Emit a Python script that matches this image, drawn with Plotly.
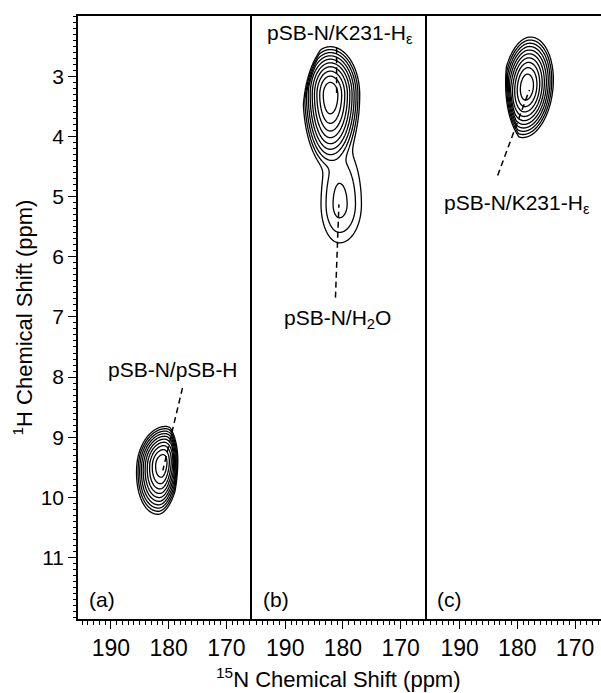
import numpy as np
import plotly.graph_objects as go

# ---------------- data ----------------
panel_labels = ["(a)", "(b)", "(c)"]
x_tick_vals = [190, 180, 170]
y_tick_vals = [3, 4, 5, 6, 7, 8, 9, 10, 11]

# cross peaks (15N ppm, 1H ppm) and their outer-contour extents
peak_panel = [0, 1, 1, 2]
peak_n = [181.1, 182.2, 180.6, 178.4]
peak_h = [9.45, 3.31, 5.13, 3.18]
peak_log_amp = [0.0, 0.0, -7.6, 0.0]
peak_ext_left = [4.4, 4.7, 3.2, 4.1]
peak_ext_right = [3.1, 5.1, 3.8, 4.6]
peak_ext_up = [0.63, 0.80, 1.0, 0.83]
peak_ext_down = [0.83, 1.22, 0.64, 0.84]
peak_shear = [0.9, 0.0, 0.0, 0.8]

# steeper edges of the peaks (line through two points in ppm)
edge_panel = [0, 1, 2]
edge_n1 = [179.6, 184.0, 181.6]
edge_h1 = [9.0, 2.6, 3.0]
edge_n2 = [178.9, 186.3, 179.9]
edge_h2 = [9.9, 3.3, 3.9]
edge_side = [1, -1, -1]
edge_rate = [0.45, 0.45, 0.45]

# assignment labels
label_panel = [0, 1, 1, 2]
label_text = ["pSB-N/pSB-H", "pSB-N/K231-H<sub>ε</sub>", "pSB-N/H<sub>2</sub>O", "pSB-N/K231-H<sub>ε</sub>"]
label_n = [179.3, 180.6, 181.0, 180.0]
label_h = [7.87, 2.30, 7.03, 5.12]
leader_n0 = [177.6, 181.1, 181.3, 183.4]
leader_h0 = [8.18, 2.52, 6.68, 4.65]
leader_n1 = [181.0, 181.1, 180.7, 177.9]
leader_h1 = [9.55, 3.28, 5.13, 3.23]

grid_n_lo = [172.0, 172.0, 169.0]
grid_n_hi = [190.0, 191.0, 187.0]
grid_h_lo = [8.2, 2.0, 2.0]
grid_h_hi = [10.9, 6.3, 4.7]

N_RANGE = [195.7, 165.5]
H_RANGE = [12.02, 2.0]
N_LEVELS = 10
P_EXP = 1.7
PX_N = 5.77
PX_H = 60.3


def panel_surface(k):
    n = np.arange(grid_n_lo[k], grid_n_hi[k] + 1e-9, 0.08)
    h = np.arange(grid_h_lo[k], grid_h_hi[k] + 1e-9, 0.015)
    N, H = np.meshgrid(n, h)
    total = np.zeros_like(N)
    for i in range(len(peak_panel)):
        if peak_panel[i] != k:
            continue
        u = (N - peak_n[i]) - peak_shear[i] * (H - peak_h[i])
        su = np.where(u > 0, peak_ext_left[i], peak_ext_right[i])
        v = H - peak_h[i]
        sv = np.where(v < 0, peak_ext_up[i], peak_ext_down[i])
        d = np.sqrt((u / su) ** 2 + (v / sv) ** 2)
        la = peak_log_amp[i]
        total += np.exp(la - (N_LEVELS + la) * d ** P_EXP)
    logz = np.log(total + 1e-30)
    for j in range(len(edge_panel)):
        if edge_panel[j] != k:
            continue
        X = (N_RANGE[0] - N) * PX_N
        Y = (H - 2.0) * PX_H
        X1 = (N_RANGE[0] - edge_n1[j]) * PX_N
        Y1 = (edge_h1[j] - 2.0) * PX_H
        X2 = (N_RANGE[0] - edge_n2[j]) * PX_N
        Y2 = (edge_h2[j] - 2.0) * PX_H
        dx, dy = X2 - X1, Y2 - Y1
        s = edge_side[j] * ((X - X1) * dy - (Y - Y1) * dx) / np.hypot(dx, dy)
        logz = logz - edge_rate[j] * np.maximum(s, 0)
    logz = np.clip(logz, -20, 1)
    return n, h, np.round(logz, 3)


FONT = "Liberation Sans, Arial, sans-serif"
fig = go.Figure()
xa = ["x", "x2", "x3"]
ya = ["y", "y2", "y3"]

for k in range(3):
    n, h, z = panel_surface(k)
    fig.add_trace(go.Contour(
        x=n, y=h, z=z, xaxis=xa[k], yaxis=ya[k],
        contours=dict(start=-N_LEVELS, end=-1, size=1, coloring="lines"),
        colorscale=[[0, "black"], [1, "black"]], showscale=False,
        line=dict(width=1.3, color="black"), hoverinfo="skip",
    ))

for i in range(len(label_panel)):
    k = label_panel[i]
    fig.add_trace(go.Scatter(
        x=[leader_n0[i], leader_n1[i]], y=[leader_h0[i], leader_h1[i]],
        xaxis=xa[k], yaxis=ya[k], mode="lines",
        line=dict(color="black", width=1.5, dash="6px,4px"),
        showlegend=False, hoverinfo="skip",
    ))

annotations = []
for i in range(len(label_panel)):
    k = label_panel[i]
    annotations.append(dict(
        x=label_n[i], y=label_h[i], xref=xa[k], yref=ya[k], text=label_text[i],
        showarrow=False, xanchor="center", yanchor="middle",
        font=dict(family=FONT, size=21, color="black"),
    ))
for k in range(3):
    annotations.append(dict(
        x=0.05, y=11.7, xref=f"{xa[k]} domain", yref=ya[k], text=panel_labels[k],
        showarrow=False, xanchor="left", yanchor="middle",
        font=dict(family=FONT, size=21, color="black"),
    ))
annotations.append(dict(
    x=0.499, y=-0.098, xref="paper", yref="paper",
    text="<sup>15</sup>N Chemical Shift (ppm)", showarrow=False,
    xanchor="center", yanchor="middle", font=dict(family=FONT, size=22, color="black"),
))
annotations.append(dict(
    x=-0.107, y=0.5, xref="paper", yref="paper", textangle=-90,
    text="<sup>1</sup>H Chemical Shift (ppm)", showarrow=False,
    xanchor="center", yanchor="middle", font=dict(family=FONT, size=22, color="black"),
))

layout = dict(
    width=601, height=693,
    margin=dict(l=78, r=0, t=16, b=74),
    paper_bgcolor="white", plot_bgcolor="white",
    showlegend=False, annotations=annotations,
    font=dict(family=FONT, color="black"),
)
doms = [[0, 1 / 3], [1 / 3, 2 / 3], [2 / 3, 1]]
for k in range(3):
    key = "xaxis" if k == 0 else f"xaxis{k + 1}"
    layout[key] = dict(
        domain=doms[k], range=N_RANGE, anchor=ya[k],
        tickmode="array", tickvals=x_tick_vals,
        ticks="outside", ticklen=8, tickwidth=1.3, tickcolor="black",
        showline=True, linecolor="black", linewidth=1.5, mirror=True,
        showgrid=False, zeroline=False,
        tickfont=dict(family=FONT, size=23, color="black"),
        minor=dict(tickmode="linear", tick0=0, dtick=1, ticks="outside",
                   ticklen=4, tickwidth=1, tickcolor="black", showgrid=False),
    )
    ykey = "yaxis" if k == 0 else f"yaxis{k + 1}"
    yd = dict(
        domain=[0, 1], range=H_RANGE, anchor=xa[k],
        showline=True, linecolor="black", linewidth=1.5,
        showgrid=False, zeroline=False,
    )
    if k == 0:
        yd.update(
            tickmode="array", tickvals=y_tick_vals,
            ticks="outside", ticklen=8, tickwidth=1.3, tickcolor="black",
            tickfont=dict(family=FONT, size=21, color="black"),
            minor=dict(tickmode="linear", tick0=0, dtick=0.1, ticks="outside",
                       ticklen=3, tickwidth=1, tickcolor="black", showgrid=False),
        )
    else:
        yd.update(matches="y", showticklabels=False, ticks="")
    layout[ykey] = yd

fig.update_layout(**layout)
fig.write_html("out.html")
